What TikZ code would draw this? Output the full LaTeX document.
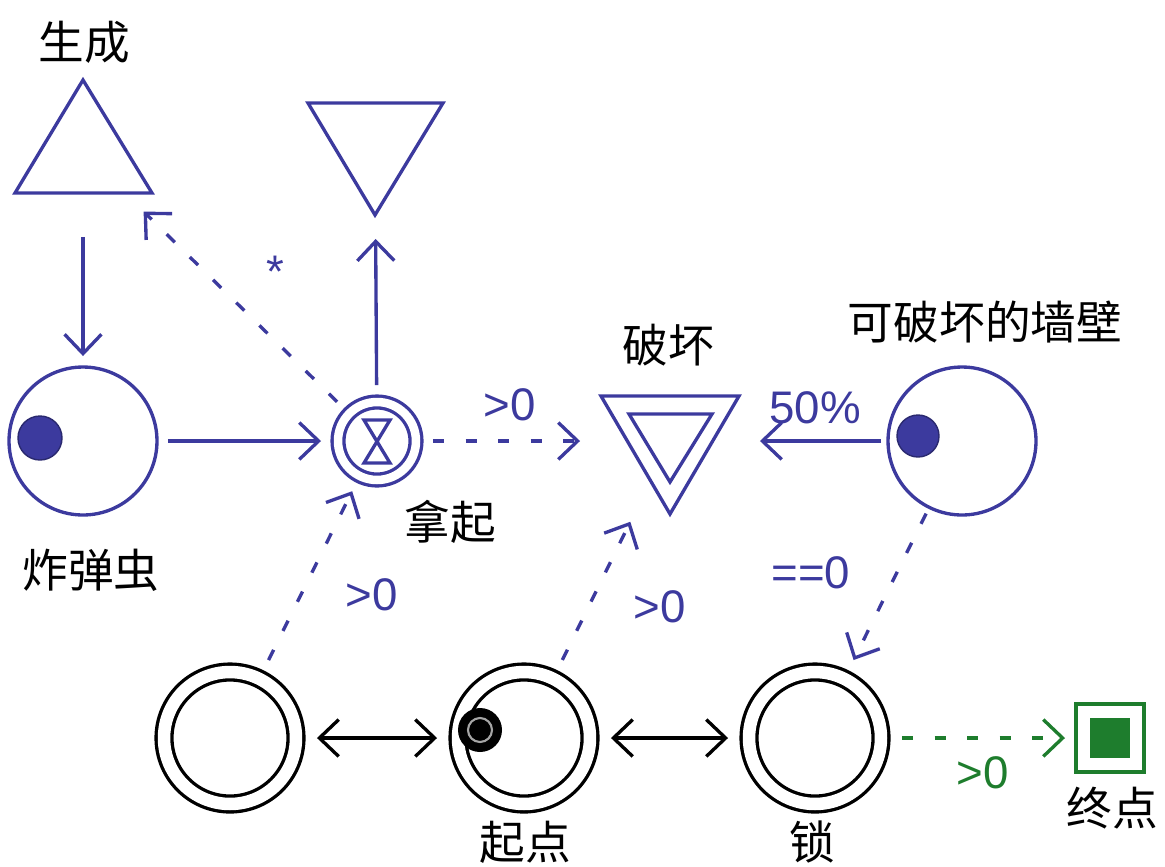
\documentclass[tikz,border=0pt]{standalone}
\usepackage{fontspec}
\setmainfont{Liberation Sans}
\newfontfamily\cjk{Noto Sans CJK SC}
\usetikzlibrary{arrows.meta}
\definecolor{mblue}{RGB}{60,58,158}
\definecolor{mgreen}{RGB}{30,125,45}
\begin{document}
\begin{tikzpicture}[x=0.02cm,y=-0.02cm,
  lw/.style={line width=1.9pt},
  tip/.style={-{Straight Barb[length=11pt,width=21pt]}},
  both/.style={{Straight Barb[length=11pt,width=21pt]}-{Straight Barb[length=11pt,width=21pt]}},
  dsh/.style={dash pattern=on 6.5pt off 12pt},
  hub/.style={circle, draw=none, inner sep=0pt, outer sep=0pt},
  pool/.style={circle, draw=mblue, lw, inner sep=0pt, minimum size=2.96cm},
  ring/.style={circle, draw=black, lw, double=white, double distance=0.25cm, inner sep=0pt, minimum size=2.64cm, outer sep=0.42cm},
  cjklabel/.style={inner sep=0pt, font=\cjk\fontsize{26pt}{30pt}\selectfont, text=black},
  numlabel/.style={inner sep=0pt, font=\fontsize{26pt}{30pt}\selectfont, text=mblue},
  shp/.style={draw=mblue, lw}
]
\useasboundingbox (0,0) rectangle (1165,866);

% --- shapes drawn directly
\draw[shp] (83,80) -- (15,193) -- (152,193) -- cycle;
\draw[shp] (308,103) -- (443,103) -- (375,215) -- cycle;
\draw[shp] (601,396) -- (739,396) -- (670,514) -- cycle;
\draw[shp] (629,414) -- (712,414) -- (670,482) -- cycle;

% --- nodes
\node[hub, minimum size=3.4cm] (spawn) at (83,152) {};
\node[hub, minimum size=3.88cm] (drain) at (375,142) {};
\node[hub, minimum size=3.6cm] (destroy) at (670,441) {};
\node[pool, outer sep=0.22cm] (bomb) at (83,441) {};
\node[pool, outer sep=0.14cm] (wall) at (962,441) {};
\node[circle, draw=mblue, lw, double=white, double distance=0.17cm, inner sep=0pt, minimum size=1.56cm, outer sep=0.34cm] (pickup) at (377,441) {};
\draw[shp, line join=miter] (364,420) -- (390,420) -- (364,463) -- (390,463) -- cycle;

\node[ring] (p1) at (230,738) {};
\node[ring] (start) at (524,738) {};
\node[ring] (lock) at (815,738) {};
\node[rectangle, draw=mgreen, lw, inner sep=0pt, minimum size=1.36cm, outer sep=0.22cm] (fin) at (1110,738) {};
\fill[mgreen] (1090,718) rectangle (1130,758);

% tokens
\fill[mblue, draw=mblue!70!black, line width=0.8pt] (40,438) circle (22);
\fill[mblue, draw=mblue!70!black, line width=0.8pt] (918,436) circle (21);
\fill[black] (480,730) circle (22);
\draw[gray!70, line width=1.2pt] (480,730) circle (12);

% --- connectors
\draw[lw, mblue, tip] (spawn) -- (bomb);
\draw[lw, mblue, tip] (bomb) -- (pickup);
\draw[lw, mblue, tip] (pickup) -- (drain);
\draw[lw, mblue, tip, dsh] (pickup) -- (spawn);
\draw[lw, mblue, tip, dsh] (pickup) -- (destroy);
\draw[lw, mblue, tip] (wall) -- (destroy);
\draw[lw, mblue, tip, dsh] (wall) -- (lock);
\draw[lw, mblue, tip, dsh] (p1) -- (pickup);
\draw[lw, mblue, tip, dsh] (start) -- (destroy);
\draw[lw, black, both] (p1) -- (start);
\draw[lw, black, both] (start) -- (lock);
\draw[lw, mgreen, tip, dsh] (lock) -- (fin);

% --- labels
\node[cjklabel] (tspawn) at (84,42) {生成};
\node[cjklabel] (tbomb) at (91,570) {炸弹虫};
\node[cjklabel] (tpick) at (450,522) {拿起};
\node[cjklabel] (tdest) at (668,345) {破坏};
\node[cjklabel] (twall) at (985,322) {可破坏的墙壁};
\node[cjklabel] (tstart) at (525,842) {起点};
\node[cjklabel] (tlock) at (812,842) {锁};
\node[cjklabel] (tfin) at (1112,808) {终点};

\node[numlabel] (lstar) at (275,272) {*};
\node[numlabel] (l1) at (510,405) {>0};
\node[numlabel] (l2) at (815,408) {50\%};
\node[numlabel] (l3) at (811,573) {==0};
\node[numlabel] (l4) at (372,595) {>0};
\node[numlabel] (l5) at (660,607) {>0};
\node[numlabel, text=mgreen] (l6) at (983,773) {>0};
\end{tikzpicture}
\end{document}
